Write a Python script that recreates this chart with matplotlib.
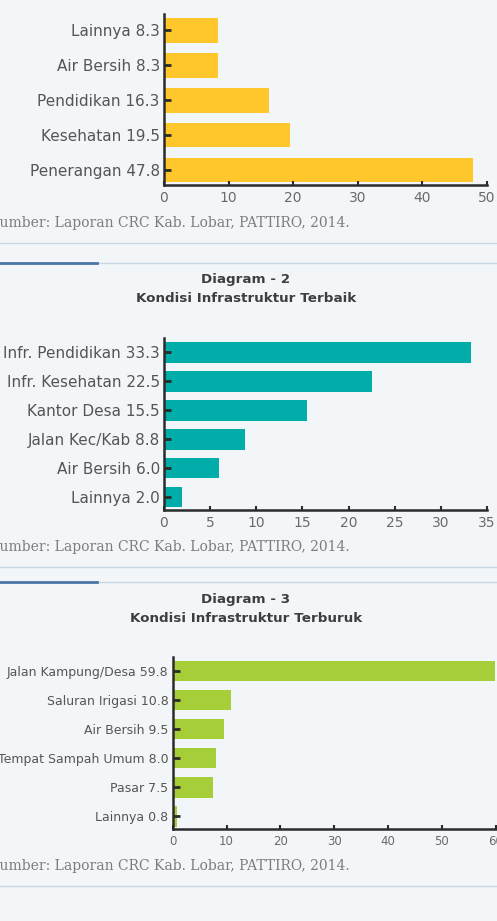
import matplotlib
matplotlib.use("Agg")
import matplotlib.pyplot as plt
from matplotlib.lines import Line2D

# ---- data ----
cat1 = ["Penerangan", "Kesehatan", "Pendidikan", "Air Bersih", "Lainnya"]
val1 = [47.8, 19.5, 16.3, 8.3, 8.3]
xt1 = [0, 10, 20, 30, 40, 50]

cat2 = ["Lainnya", "Air Bersih", "Jalan Kec/Kab", "Kantor Desa", "Infr. Kesehatan", "Infr. Pendidikan"]
val2 = [2.0, 6.0, 8.8, 15.5, 22.5, 33.3]
xt2 = [0, 5, 10, 15, 20, 25, 30, 35]

cat3 = ["Lainnya", "Pasar", "Tempat Sampah Umum", "Air Bersih", "Saluran Irigasi", "Jalan Kampung/Desa"]
val3 = [0.8, 7.5, 8.0, 9.5, 10.8, 59.8]
xt3 = [0, 10, 20, 30, 40, 50, 60]

title2 = ["Diagram - 2", "Kondisi Infrastruktur Terbaik"]
title3 = ["Diagram - 3", "Kondisi Infrastruktur Terburuk"]
source = "Sumber: Laporan CRC Kab. Lobar, PATTIRO, 2014."

W, H = 497, 921
BG = "#f3f6f9"
fig = plt.figure(figsize=(W / 100, H / 100), dpi=100, facecolor=BG)

def fx(px):
    return px / W

def fy(py):
    return 1 - py / H

def make_axes(left, right, top, bottom, cats, vals, ticks, color, ylim, bh, lab_fs, tick_fs):
    ax = fig.add_axes([fx(left), fy(bottom), fx(right) - fx(left), fy(top) - fy(bottom)])
    ax.set_facecolor("none")
    y = list(range(len(cats)))
    ax.barh(y, vals, height=bh, color=color, zorder=2)
    ax.set_xlim(ticks[0], ticks[-1])
    ax.set_ylim(*ylim)
    ax.set_yticks(y)
    ax.set_yticklabels([f"{c} {v:.1f}" for c, v in zip(cats, vals)],
                       fontsize=lab_fs, color="#555555")
    ax.set_xticks(ticks)
    ax.set_xticklabels([str(t) for t in ticks], fontsize=tick_fs, color="#6a6a6a")
    for s in ["top", "right"]:
        ax.spines[s].set_visible(False)
    for s in ["left", "bottom"]:
        ax.spines[s].set_color("#2b2b2b")
        ax.spines[s].set_linewidth(1.8)
        ax.spines[s].set_zorder(3)
    ax.tick_params(axis="y", direction="in", length=5, width=2, color="#2b2b2b", pad=3)
    ax.tick_params(axis="x", direction="in", length=3, width=1.5, color="#2b2b2b", pad=4)
    for t in ax.yaxis.get_major_ticks():
        t.tick1line.set_zorder(4)
    ax.set_axisbelow(False)
    return ax

ax1 = make_axes(164, 487, 14, 185, cat1, val1, xt1, "#ffc72c", (-0.43, 4.47), 0.71, 11, 10)
ax2 = make_axes(164, 487, 338, 510, cat2, val2, xt2, "#00ada8", (-0.45, 5.5), 0.72, 11, 10)
ax3 = make_axes(172.7, 495.7, 657, 829, cat3, val3, xt3, "#a6ce39", (-0.43, 5.48), 0.70, 9, 8.5)

# titles
for (l1, l2), y1, y2 in [(title2, 280, 298), (title3, 600, 618)]:
    fig.text(fx(246), fy(y1), l1, ha="center", va="center", fontsize=9.7,
             fontweight="bold", color="#3e3e3e")
    fig.text(fx(246), fy(y2), l2, ha="center", va="center", fontsize=9.7,
             fontweight="bold", color="#3e3e3e")

# sources (first letter runs off the left edge)
SFS = 10
fig.canvas.draw()
r = fig.canvas.get_renderer()
probe = fig.text(0, 0, "S", fontsize=SFS, family="DejaVu Serif")
sw = probe.get_window_extent(r).width
probe.remove()
for ys in [223, 547, 866]:
    fig.text(fx(-sw), fy(ys), source, ha="left", va="center", fontsize=SFS,
             family="DejaVu Serif", color="#7c7c7c")

# separator lines
def hline(py, x0, x1, color, lw):
    fig.add_artist(Line2D([fx(x0), fx(x1)], [fy(py), fy(py)], color=color, lw=lw,
                          transform=fig.transFigure))

for py in [243, 263, 567, 582, 886]:
    hline(py, 0, W, "#c8d5e2", 1.0)
for py in [263, 582]:
    hline(py, 0, 97, "#4b75a6", 2.0)

fig.savefig("out.png", dpi=100, facecolor=BG)
